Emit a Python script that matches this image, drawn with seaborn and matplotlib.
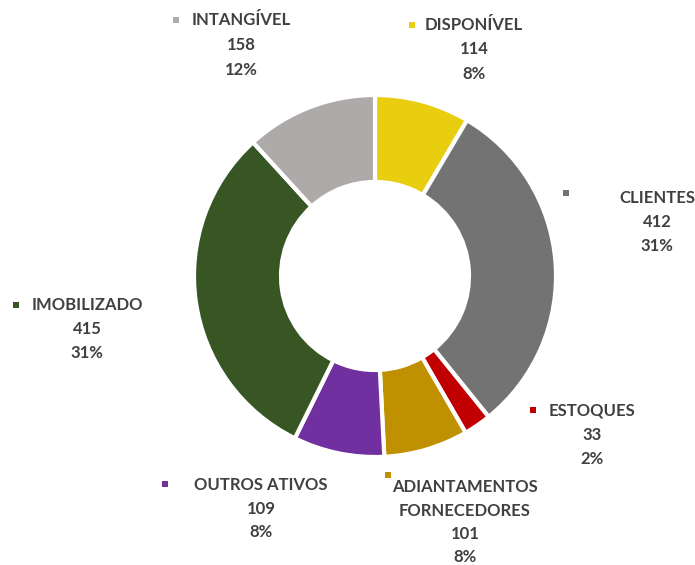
import matplotlib
matplotlib.use("Agg")
import matplotlib.pyplot as plt
import seaborn as sns

categories = ["DISPONÍVEL", "CLIENTES", "ESTOQUES", "ADIANTAMENTOS\nFORNECEDORES",
              "OUTROS ATIVOS", "IMOBILIZADO", "INTANGÍVEL"]
values = [114, 412, 33, 101, 109, 415, 158]
colors = ["#E8CE0E", "#737373", "#C00000", "#BF9000", "#7030A0", "#375623", "#AEAAAA"]

sns.set_theme(style="white")
plt.rcParams["font.family"] = ["Lato", "DejaVu Sans"]

W, H = 695, 565
fig = plt.figure(figsize=(W / 100, H / 100), dpi=100)
ax = fig.add_axes([0, 0, 1, 1])

cx, cy = 375, 276
R, r_in = 181, 94
ax.pie(values, colors=colors, startangle=90, counterclock=False,
       radius=R, center=(cx, H - cy),
       wedgeprops=dict(width=R - r_in, edgecolor="white", linewidth=3))
ax.set_xlim(0, W)
ax.set_ylim(0, H)
ax.set_aspect("equal")
ax.axis("off")

total = sum(values)
# label layout: (text center x, first line y, line step, marker x, marker y) in pixels
layout = {
    "DISPONÍVEL": (474, 25, 24.5, 412, 25),
    "CLIENTES": (657, 198, 24, 566, 193),
    "ESTOQUES": (592, 411, 24, 533, 410),
    "ADIANTAMENTOS\nFORNECEDORES": (465, 487, 23.5, 388, 475),
    "OUTROS ATIVOS": (261, 485, 23.5, 165, 484),
    "IMOBILIZADO": (87, 305, 24, 16, 305),
    "INTANGÍVEL": (241, 20, 25, 176, 20),
}
txt_color = "#404040"
for name, val, col in zip(categories, values, colors):
    tx, ty, step, mx, my = layout[name]
    lines = name.split("\n") + [f"{val}", f"{round(100 * val / total):.0f}%"]
    for i, line in enumerate(lines):
        ax.text(tx, H - (ty + i * step), line, ha="center", va="center",
                fontsize=12, fontweight="bold", color=txt_color)
    ax.scatter([mx], [H - my], marker="s", s=22, color=col, linewidths=0)

fig.savefig("out.png", dpi=100, facecolor="white")
